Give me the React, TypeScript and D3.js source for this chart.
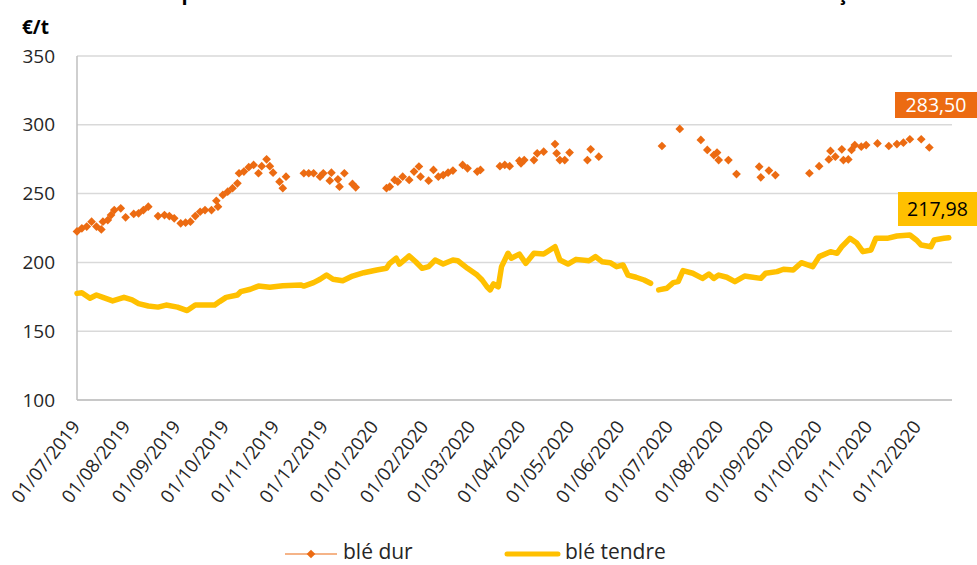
import React from 'react';
import * as d3 from 'd3';

const W = 977;
const H = 565;

// blé dur (points isolés)
const durDates = [
  '2019-07-01', '2019-07-04', '2019-07-07', '2019-07-10', '2019-07-13', '2019-07-16', '2019-07-17', '2019-07-20',
  '2019-07-22', '2019-07-24', '2019-07-28', '2019-07-31', '2019-08-05', '2019-08-08', '2019-08-11', '2019-08-14',
  '2019-08-20', '2019-08-24', '2019-08-27', '2019-08-30', '2019-09-03', '2019-09-06', '2019-09-09', '2019-09-12',
  '2019-09-15', '2019-09-18', '2019-09-22', '2019-09-25', '2019-09-26', '2019-09-29', '2019-10-02', '2019-10-05',
  '2019-10-08', '2019-10-09', '2019-10-12', '2019-10-15', '2019-10-18', '2019-10-21', '2019-10-23', '2019-10-26',
  '2019-10-28', '2019-10-30', '2019-11-03', '2019-11-05', '2019-11-07', '2019-11-18', '2019-11-21', '2019-11-24',
  '2019-11-28', '2019-11-30', '2019-12-04', '2019-12-05', '2019-12-09', '2019-12-10', '2019-12-13', '2019-12-18',
  '2019-12-20', '2020-01-08', '2020-01-10', '2020-01-13', '2020-01-15', '2020-01-18', '2020-01-22', '2020-01-25',
  '2020-01-28', '2020-01-29', '2020-02-03', '2020-02-06', '2020-02-09', '2020-02-12', '2020-02-15', '2020-02-18',
  '2020-02-24', '2020-02-27', '2020-03-04', '2020-03-06', '2020-03-18', '2020-03-21', '2020-03-24', '2020-03-30',
  '2020-03-31', '2020-04-02', '2020-04-08', '2020-04-10', '2020-04-14', '2020-04-21', '2020-04-22', '2020-04-24',
  '2020-04-27', '2020-04-30', '2020-05-11', '2020-05-13', '2020-05-18', '2020-06-26', '2020-07-07', '2020-07-20',
  '2020-07-24', '2020-07-28', '2020-07-30', '2020-07-31', '2020-08-06', '2020-08-11', '2020-08-25', '2020-08-26',
  '2020-08-31', '2020-09-04', '2020-09-25', '2020-10-01', '2020-10-07', '2020-10-08', '2020-10-11', '2020-10-15',
  '2020-10-16', '2020-10-19', '2020-10-21', '2020-10-23', '2020-10-27', '2020-10-30', '2020-11-06', '2020-11-13',
  '2020-11-18', '2020-11-22', '2020-11-26', '2020-12-03', '2020-12-08',
];
const durValues = [
  222.5, 224.8, 226, 229.6, 226, 224, 229.6, 230.8,
  234.4, 238, 239.3, 232.8, 235.2, 235.7, 238, 240.5,
  233.7, 234.4, 233.7, 232, 228.4, 228.9, 229.6, 233.7,
  236.8, 238, 238, 244.8, 240.5, 249, 251.4, 253.9,
  257.5, 264.8, 266, 269.2, 270.8, 264.8, 269.9, 274.9,
  269.9, 265.2, 258.7, 253.9, 262.3, 264.8, 264.8, 264.8,
  262.3, 264.8, 259.4, 265.2, 260.4, 255, 264.8, 257,
  254.6, 253.9, 255, 259.9, 258.7, 262.3, 259.9, 266,
  269.7, 262.3, 259.4, 267.2, 262.3, 263.5, 265.2, 266.7,
  270.8, 268.4, 266, 267.2, 269.9, 270.8, 269.9, 273.9,
  272, 274.4, 274.4, 279.3, 280.5, 286, 279.3, 274.4,
  274.4, 279.8, 274.4, 282.2, 276.8, 284.6, 297, 289,
  281.7, 278, 279.8, 274.4, 274.4, 264.2, 269.6, 261.8,
  266.7, 263.5, 264.8, 269.9, 274.8, 281, 276.8, 282.2,
  274.4, 274.8, 281.7, 285.3, 284.1, 285.3, 286.5, 284.6,
  286, 287, 289.5, 289.5, 283.5,
];

// blé tendre (ligne, null = trou)
const tendreDates = [
  '2019-07-01', '2019-07-04', '2019-07-09', '2019-07-13', '2019-07-17', '2019-07-23', '2019-07-30', '2019-08-04',
  '2019-08-08', '2019-08-14', '2019-08-20', '2019-08-25', '2019-09-01', '2019-09-07', '2019-09-12', '2019-09-19',
  '2019-09-24', '2019-09-27', '2019-10-01', '2019-10-08', '2019-10-10', '2019-10-16', '2019-10-21', '2019-10-28',
  '2019-11-05', '2019-11-16', '2019-11-18', '2019-11-24', '2019-11-28', '2019-12-02', '2019-12-06', '2019-12-12',
  '2019-12-18', '2019-12-25', '2020-01-02', '2020-01-08', '2020-01-10', '2020-01-14', '2020-01-16', '2020-01-22',
  '2020-01-26', '2020-01-30', '2020-02-03', '2020-02-07', '2020-02-12', '2020-02-18', '2020-02-21', '2020-02-27',
  '2020-03-04', '2020-03-07', '2020-03-10', '2020-03-12', '2020-03-14', '2020-03-17', '2020-03-19', '2020-03-23',
  '2020-03-25', '2020-03-30', '2020-04-03', '2020-04-08', '2020-04-14', '2020-04-21', '2020-04-24', '2020-04-29',
  '2020-05-04', '2020-05-12', '2020-05-16', '2020-05-20', '2020-05-25', '2020-05-29', '2020-06-02', '2020-06-05',
  '2020-06-10', '2020-06-15', '2020-06-19', '2020-06-21', '2020-06-24', '2020-06-29', '2020-07-03', '2020-07-06',
  '2020-07-09', '2020-07-15', '2020-07-21', '2020-07-25', '2020-07-28', '2020-07-31', '2020-08-05', '2020-08-10',
  '2020-08-16', '2020-08-19', '2020-08-26', '2020-08-29', '2020-09-05', '2020-09-09', '2020-09-15', '2020-09-20',
  '2020-09-27', '2020-10-01', '2020-10-08', '2020-10-12', '2020-10-15', '2020-10-17', '2020-10-20', '2020-10-24',
  '2020-10-28', '2020-11-02', '2020-11-05', '2020-11-12', '2020-11-18', '2020-11-26', '2020-11-30', '2020-12-03',
  '2020-12-09', '2020-12-11', '2020-12-17', '2020-12-20',
];
const tendreValues = [
  177.5, 178, 174, 176.3, 174.6, 172, 174.6, 172.7,
  170, 168.3, 167.5, 169, 167.5, 165, 169, 169,
  169, 171.5, 174.6, 176.3, 178.7, 180.5, 182.8, 181.9,
  183, 183.6, 182.8, 185.3, 187.7, 190.8, 187.7, 186.7,
  190.1, 192.5, 194.5, 195.7, 199.3, 203, 198.8, 204.7,
  200.5, 195.7, 196.9, 201.7, 198.8, 201.7, 201.2, 195.7,
  190.8, 187.2, 182.3, 180, 184.3, 182.3, 196.9, 206.6,
  203, 206, 199.3, 206.6, 206.1, 211.4, 201.7, 198.8,
  202.2, 201.2, 204.2, 200.5, 199.8, 196.9, 198.1, 190.8,
  189.2, 187.2, 184.8, null, 180, 181.2, 185.3, 186,
  194, 192.1, 188.4, 191.6, 188.4, 190.8, 189.2, 186,
  190.1, 189.6, 188.4, 192.1, 193.3, 195, 194.5, 199.8,
  196.9, 204.2, 207.8, 206.6, 211.4, 213.9, 217.5, 214.3,
  207.8, 209, 217.5, 217.5, 219.2, 219.9, 216.3, 212.6,
  211.4, 216.3, 217.5, 217.98,
];

const yTicks = [100, 150, 200, 250, 300, 350];
const xTickDates = [
  '2019-07-01', '2019-08-01', '2019-09-01', '2019-10-01', '2019-11-01', '2019-12-01',
  '2020-01-01', '2020-02-01', '2020-03-01', '2020-04-01', '2020-05-01', '2020-06-01',
  '2020-07-01', '2020-08-01', '2020-09-01', '2020-10-01', '2020-11-01', '2020-12-01',
];
const lastLabels = ['283,50', '217,98'];
const seriesNames = ['blé dur', 'blé tendre'];
const title = 'Comparaison des cotations du blé dur et du blé tendre sur le marché français';

const ORANGE = '#EC6B12';
const YELLOW = '#FFC000';
const FONT = '"Open Sans", sans-serif';

const parse = d3.timeParse('%Y-%m-%d');
const fmt = d3.timeFormat('%d/%m/%Y');

export default function App() {
  const left = 77, right = 952, top = 56, bottom = 400;

  const x = d3.scaleTime()
    .domain([parse('2019-07-01'), parse('2020-12-22')])
    .range([left, right]);
  const y = d3.scaleLinear().domain([100, 350]).range([bottom, top]);

  const tendre = tendreDates.map((d, i) => ({ date: parse(d), v: tendreValues[i] }));
  const dur = durDates.map((d, i) => ({ date: parse(d), v: durValues[i] }));

  const line = d3.line<any>()
    .defined(d => d.v != null)
    .x(d => x(d.date))
    .y(d => y(d.v));

  const diamond = d3.symbol().type(d3.symbolSquare).size(38)();

  return (
    <svg width={W} height={H} style={{ position: 'absolute', left: 0, top: 0, background: '#fff' }}
      fontFamily={FONT}>
      {/* titre coupé en haut, comme sur l'original */}
      <text x={138} y={0} fontSize={20} fontWeight="bold" textLength={736} lengthAdjust="spacing">{title}</text>
      <text x={22} y={34} fontSize={19} fontWeight="bold">€/t</text>

      {yTicks.map(t => (
        <g key={t}>
          <line x1={left} x2={right} y1={y(t)} y2={y(t)} stroke="#D9D9D9" strokeWidth={1.5} />
          <text x={55} y={y(t)} dy="0.35em" textAnchor="end" fontSize={19} fill="#262626">{t}</text>
        </g>
      ))}
      <line x1={left} x2={left} y1={top} y2={bottom} stroke="#BFBFBF" strokeWidth={1.5} />
      <line x1={left} x2={right} y1={bottom} y2={bottom} stroke="#BFBFBF" strokeWidth={1.5} />

      {xTickDates.map(d => {
        const xx = x(parse(d));
        return (
          <text key={d} transform={`translate(${xx + 4},${bottom + 27}) rotate(-52)`} textAnchor="end"
            fontSize={18.5} fill="#262626">{fmt(parse(d))}</text>
        );
      })}

      <path d={line(tendre) || ''} fill="none" stroke={YELLOW} strokeWidth={5.5} strokeLinejoin="round" strokeLinecap="round" />
      {dur.map((d, i) => (
        <path key={i} d={diamond} transform={`translate(${x(d.date)},${y(d.v)}) rotate(45)`} fill={ORANGE} />
      ))}

      <rect x={895} y={92} width={82} height={26} fill={ORANGE} />
      <text x={936} y={105} dy="0.36em" textAnchor="middle" fontSize={19.5} fill="#fff">{lastLabels[0]}</text>
      <rect x={898} y={192} width={79} height={34} fill={YELLOW} />
      <text x={937.5} y={209} dy="0.36em" textAnchor="middle" fontSize={19.5} fill="#000">{lastLabels[1]}</text>

      <line x1={285} x2={337} y1={554} y2={554} stroke={ORANGE} strokeWidth={1.2} />
      <path d={diamond} transform="translate(311,554) rotate(45)" fill={ORANGE} />
      <text x={343} y={559} fontSize={21} fill="#262626">{seriesNames[0]}</text>
      <line x1={507} x2={558} y1={554} y2={554} stroke={YELLOW} strokeWidth={5} strokeLinecap="round" />
      <text x={565} y={559} fontSize={21} fill="#262626">{seriesNames[1]}</text>
    </svg>
  );
}
